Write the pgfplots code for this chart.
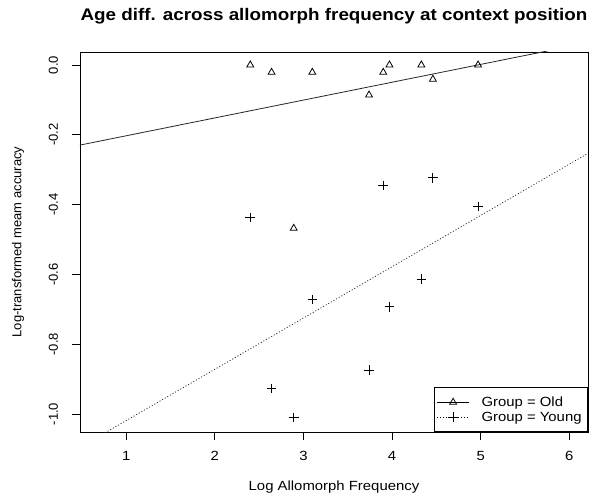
\documentclass[border=0pt]{standalone}
\usepackage{fontspec}
\setmainfont{Liberation Sans}[FakeStretch=1.12]
\newfontfamily\yfont{Liberation Sans}
\usepackage{pgfplots}
\pgfplotsset{compat=1.18}
\begin{document}
\begin{tikzpicture}
\begin{axis}[
  scale only axis, width=508bp, height=380bp,
  xmin=0.479, xmax=6.21, ymin=-1.0516, ymax=0.0372,
  axis line style={black, line width=0.8bp},
  tick align=outside, tick pos=left,
  major tick length=7.5bp,
  every tick/.style={black, line width=0.8bp},
  xtick={1,2,3,4,5,6},
  ytick={-1,-0.8,-0.6,-0.4,-0.2,0},
  /pgf/number format/assume math mode=true,
  xticklabel style={font=\fontsize{13.3bp}{15bp}\selectfont},
  yticklabel style={font=\yfont\fontsize{13bp}{15bp}\selectfont, rotate=90, anchor=south,
    /pgf/number format/fixed, /pgf/number format/fixed zerofill, /pgf/number format/precision=1},
  xticklabel shift=8bp, yticklabel shift=11bp,
  xlabel={Log Allomorph Frequency},
  xlabel style={at={(axis description cs:0.5,-0.1545)}, anchor=base, font=\fontsize{13.3bp}{15bp}\selectfont},
  ylabel={Log-transformed meam accuracy},
  ylabel style={at={(axis description cs:-0.122,0.5)}, anchor=center, font=\yfont\fontsize{13bp}{15bp}\selectfont},
  title={Age diff. across allomorph frequency at context position},
  title style={at={(axis description cs:0.5,1.068)}, anchor=base, font=\bfseries\fontsize{16.8bp}{18bp}\selectfont},
  legend style={at={(1,0)}, anchor=south east, draw=black, line width=0.8bp, inner xsep=2bp, inner ysep=7bp,
    nodes={inner ysep=2bp, inner xsep=4bp, font=\fontsize{13.3bp}{15bp}\selectfont},
    /tikz/every odd column/.append style={column sep=8bp}, row sep=0bp},
  legend cell align=left,
]
\coordinate (sw) at (rel axis cs:0,0);
% regression lines
\addplot[black!85, line width=0.8bp, forget plot] coordinates {(0,-0.254) (7,0.104)};
\addplot[black!85, line width=0.8bp, dash pattern=on 1bp off 2bp, forget plot] coordinates {(0,-1.166) (7,-0.137)};
% Old
\addplot[black, only marks, mark=triangle, mark size=4bp, mark options={line width=0.8bp},
  legend image code/.code={
    \draw[black, line width=0.8bp] (0bp,0bp) -- (32bp,0bp);
    \draw[black, line width=0.8bp] plot[mark=triangle, mark size=4bp] coordinates {(16bp,0bp)};
  }] coordinates {
  (2.40,0.000) (2.64,-0.021) (2.89,-0.468) (3.10,-0.021) (3.74,-0.086)
  (3.90,-0.021) (3.97,0.000) (4.33,0.000) (4.46,-0.041) (4.97,0.000)
};
\addlegendentry{Group = Old\hspace{5bp}}
% Young
\addplot[black, only marks, mark=+, mark size=4.8bp, mark options={line width=0.8bp},
  legend image code/.code={
    \draw[black, line width=0.8bp, dash pattern=on 1bp off 2bp] (0bp,0bp) -- (32bp,0bp);
    \draw[black, line width=0.8bp] plot[mark=+, mark size=4.8bp] coordinates {(16bp,0bp)};
  }] coordinates {
  (2.40,-0.437) (2.64,-0.927) (2.89,-1.010) (3.10,-0.672) (3.74,-0.874)
  (3.90,-0.345) (3.97,-0.693) (4.33,-0.613) (4.46,-0.323) (4.97,-0.406)
};
\addlegendentry{Group = Young\hspace{5bp}}
\end{axis}
\pgfresetboundingbox
\path[use as bounding box] ([shift={(-80bp,-63bp)}]sw) rectangle ([shift={(510bp,432bp)}]sw);
\end{tikzpicture}
\end{document}
